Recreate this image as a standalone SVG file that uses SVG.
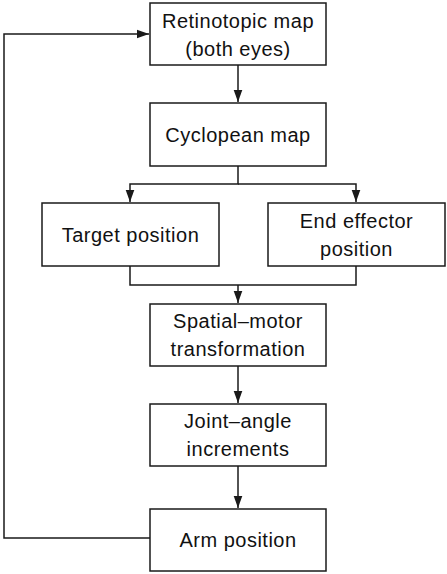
<svg xmlns="http://www.w3.org/2000/svg" width="447" height="574" viewBox="0 0 447 574">
<style>
.box{fill:#fff;stroke:#1a1a1a;stroke-width:1.5}
.t{font-family:"Liberation Sans",Arial,sans-serif;font-size:20px;letter-spacing:0.5px;fill:#111;text-anchor:middle}
.c{fill:none;stroke:#1a1a1a;stroke-width:1.5}
</style>
<defs>
<marker id="ah" markerUnits="userSpaceOnUse" markerWidth="12" markerHeight="12" viewBox="0 0 14 10" refX="14" refY="5" orient="auto">
<path d="M0,0 L14,5 L0,10 Z" fill="#1a1a1a"/>
</marker>
</defs>
<rect width="447" height="574" fill="#fff"/>
<g id="connectors">
<path class="c" d="M238,65 V102" marker-end="url(#ah)"/>
<path class="c" d="M238,166 V184 H130 V202" marker-end="url(#ah)"/>
<path class="c" d="M238,184 H356 V202" marker-end="url(#ah)"/>
<path class="c" d="M130,266 V285 H356 V266"/>
<path class="c" d="M238,285 V303" marker-end="url(#ah)"/>
<path class="c" d="M238,366 V403" marker-end="url(#ah)"/>
<path class="c" d="M238,466 V508" marker-end="url(#ah)"/>
<path class="c" d="M150,538 H4 V34 H149" marker-end="url(#ah)"/>
</g>
<g id="retinotopic">
<rect class="box" x="150" y="3" width="176" height="62"/>
<text class="t" x="238" y="28">Retinotopic map</text>
<text class="t" x="238" y="56">(both eyes)</text>
</g>
<g id="cyclopean">
<rect class="box" x="150" y="103" width="176" height="63"/>
<text class="t" x="238" y="142">Cyclopean map</text>
</g>
<g id="target">
<rect class="box" x="42" y="203" width="177" height="63"/>
<text class="t" x="130.5" y="242">Target position</text>
</g>
<g id="endeffector">
<rect class="box" x="268" y="203" width="177" height="63"/>
<text class="t" x="356.5" y="228">End effector</text>
<text class="t" x="356.5" y="256">position</text>
</g>
<g id="spatialmotor">
<rect class="box" x="150" y="304" width="176" height="62"/>
<text class="t" x="238" y="328">Spatial–motor</text>
<text class="t" x="238" y="356">transformation</text>
</g>
<g id="jointangle">
<rect class="box" x="150" y="404" width="176" height="62"/>
<text class="t" x="238" y="428">Joint–angle</text>
<text class="t" x="238" y="456">increments</text>
</g>
<g id="arm">
<rect class="box" x="150" y="509" width="176" height="62"/>
<text class="t" x="238" y="547">Arm position</text>
</g>
</svg>
